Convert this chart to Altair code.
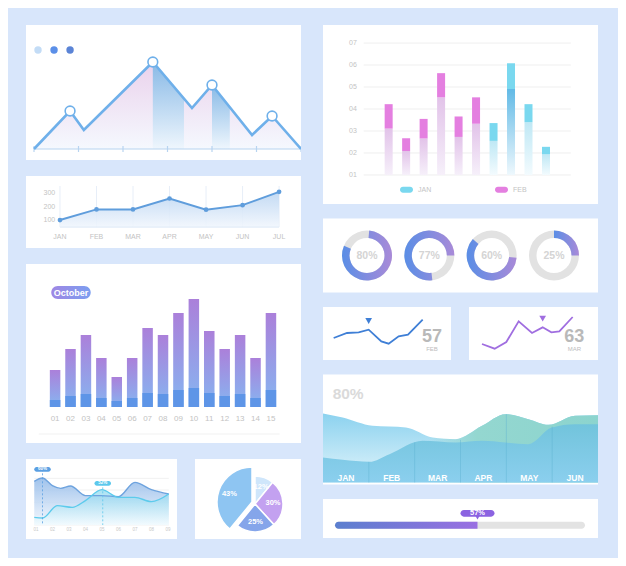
import altair as alt
import pandas as pd

FONT = "Liberation Sans"
PAGE_BG = "#d8e6fb"
LABEL_GREY = "#c3c3c3"

# ======================= DATA =======================
# top-left mountain chart
mountain_x = [0, 0.81, 1.12, 2.67, 3.55, 4.0, 4.9, 5.35, 6.0]
mountain_y = [0, 38, 19, 87, 41, 64, 14, 33, 0]
mountain_marker_x = [0.81, 2.67, 4.0, 5.35]
mountain_marker_y = [38, 87, 64, 33]
mountain_band_id = ["b1", "b1", "b2", "b2"]
mountain_band_x = [2.67, 3.37, 4.0, 4.4]
mountain_band_y = [87, 51, 64, 41]
mountain_ticks = [0, 1, 2, 3, 4, 5, 6]
dot_names = ["d1", "d2", "d3"]
dot_x = [0.09, 0.45, 0.81]
dot_y = [99, 99, 99]

# line chart JAN-JUL
line_months = ["JAN", "FEB", "MAR", "APR", "MAY", "JUN", "JUL"]
line_values = [100, 180, 180, 262, 178, 212, 312]
line_ticks = [100, 200, 300]

# October bars
oct_days = ["01", "02", "03", "04", "05", "06", "07", "08", "09", "10",
            "11", "12", "13", "14", "15"]
oct_total = [37, 58, 72, 49, 30, 49, 79, 72, 94, 108, 76, 58, 72, 49, 94]
oct_base = [7, 11, 13, 9, 6, 9, 14, 13, 17, 19, 14, 11, 13, 9, 17]

# small wave chart (bottom-left)
wave_ticks = ["01", "02", "03", "04", "05", "06", "07", "08", "09"]
wave_a_x = [0.9, 1.4, 2.0, 2.5, 3.1, 4.0, 5.0, 6.0, 7.0, 8.0, 9.05]
wave_a_v = [138, 148, 125, 117, 124, 95, 95, 92, 135, 113, 100]
wave_b_x = [0.9, 1.4, 2.3, 3.2, 4.0, 5.0, 6.0, 7.0, 8.0, 9.05]
wave_b_v = [30, 28, 65, 60, 80, 113, 90, 90, 77, 100]
wave_grid = [7, 40, 75, 112, 147]
wave_tag_series = ["a", "b"]
wave_tag_x = [1.4, 5.05]
wave_tag_v = [174, 132]
wave_tag_text = ["60%", "52%"]

# pie
pie_labels = ["12%", "30%", "25%", "43%"]
pie_values = [12, 30, 25, 43]

# stacked bars (top-right)
stack_month = ["FEB", "FEB", "FEB", "FEB", "FEB", "FEB", "JAN", "JAN", "JAN", "JAN"]
stack_low = [3.11, 2.09, 2.66, 4.53, 2.73, 3.33, 2.55, 4.91, 3.40, 1.94]
stack_high = [4.22, 2.67, 3.55, 5.63, 3.66, 4.53, 3.36, 6.08, 4.22, 2.28]
stack_ticks = ["01", "02", "03", "04", "05", "06", "07"]

# donuts
donut_pct = [80, 77, 60, 25]
donut_start = [5, 173, 95, 0]

# sparklines
spark_feb_x = [3.5, 7.5, 11, 14, 17.8, 20, 23, 25.8, 30.2]
spark_feb_v = [40, 55, 57, 65, 30, 23, 45, 50, 95]
spark_mar_x = [4, 7.8, 11.3, 15, 19, 22.2, 24.8, 27.2, 31.2]
spark_mar_v = [22, 8, 28, 90, 55, 72, 57, 60, 103]

# big wave area (right)
wave_months = ["JAN", "FEB", "MAR", "APR", "MAY", "JUN"]
back_x = [0, 0.43, 1.08, 1.81, 2.39, 2.89, 3.47, 3.98, 4.48, 4.92, 5.5, 6.0]
back_v = [207, 195, 170, 165, 135, 130, 170, 205, 190, 173, 200, 202]
front_x = [0, 0.43, 1.01, 1.45, 2.17, 2.89, 3.47, 3.98, 4.48, 4.99, 5.5, 6.0]
front_v = [75, 68, 62, 85, 125, 120, 125, 120, 115, 165, 175, 175]
sep_x = [1, 2, 3, 4, 5]
sep_top = [62, 120, 128, 205, 168]
big_pct = ["80%"]

# progress
progress_value = [57]
progress_max = [100]


# ======================= HELPERS =======================
def sc(lo, hi):
    return alt.Scale(domain=[lo, hi], nice=False, zero=False)


def vgrad(c0, c1):
    return alt.Gradient(gradient="linear", x1=0, x2=0, y1=0, y2=1,
                        stops=[alt.GradientStop(color=c0, offset=0),
                               alt.GradientStop(color=c1, offset=1)])


def hgrad(*cols, offsets=None):
    n = len(cols)
    offs = offsets if offsets else [i / (n - 1) for i in range(n)]
    return alt.Gradient(gradient="linear", x1=0, x2=1, y1=0, y2=0,
                        stops=[alt.GradientStop(color=c, offset=o) for c, o in zip(cols, offs)])


def ex(f, s):
    return alt.X(f, scale=s, axis=None)


def ey(f, s):
    return alt.Y(f, scale=s, axis=None)


def C(df, **consts):
    """Chart with constant helper fields (annotation anchors) added by calculate."""
    ch = alt.Chart(df)
    if consts:
        ch = ch.transform_calculate(**{k: repr(float(v)) for k, v in consts.items()})
    return ch


def indep(ch):
    return ch.resolve_scale(color="independent", opacity="independent", theta="independent")


# ======================= PANEL A: mountain =======================
XA, YA = sc(-0.18, 6.0), sc(-11, 124)
dfA = pd.DataFrame({"x": mountain_x, "y": mountain_y})
dfAm = pd.DataFrame({"x": mountain_marker_x, "y": mountain_marker_y})
dfAb = pd.DataFrame({"band": mountain_band_id, "x": mountain_band_x, "y": mountain_band_y})
dfAt = pd.DataFrame({"t": mountain_ticks})
dfAd = pd.DataFrame({"k": dot_names, "x": dot_x, "y": dot_y})
LINE_A = "#6fb0ea"

pA = alt.layer(
    C(dfA, z=0).mark_area(fill=vgrad("#e8cdea", "#f4f8fe"), opacity=0.9, clip=True)
    .encode(x=ex("x:Q", XA), y=ey("y:Q", YA), y2="z:Q"),
    C(dfAb, z=0).mark_area(fill=vgrad("#7db6e5", "#eef6fd"), opacity=0.9, clip=True)
    .encode(x=ex("x:Q", XA), y=ey("y:Q", YA), y2="z:Q", detail="band:N"),
    alt.Chart(dfAt).transform_aggregate(t0="min(t)", t1="max(t)").transform_calculate(z="0")
    .mark_rule(color="#b8d4f0", strokeWidth=1.2, clip=True)
    .encode(x=ex("t0:Q", XA), x2="t1:Q", y=ey("z:Q", YA)),
    C(dfAt, lo=-3, hi=3).mark_rule(color="#b8d4f0", strokeWidth=1.2, clip=True)
    .encode(x=ex("t:Q", XA), y=ey("lo:Q", YA), y2="hi:Q"),
    alt.Chart(dfA).mark_line(color=LINE_A, strokeWidth=2.6, clip=True)
    .encode(x=ex("x:Q", XA), y=ey("y:Q", YA)),
    alt.Chart(dfAm).mark_circle(size=95, fill="white", stroke=LINE_A, strokeWidth=1.6, opacity=1)
    .encode(x=ex("x:Q", XA), y=ey("y:Q", YA)),
    alt.Chart(dfAd).mark_circle(size=55, opacity=1)
    .encode(x=ex("x:Q", XA), y=ey("y:Q", YA),
            color=alt.Color("k:N", scale=alt.Scale(domain=dot_names, range=["#c3dcf6", "#5b8fe8", "#5b84d6"]),
                            legend=None)),
).properties(width=275, height=135)

# ======================= PANEL B: line JAN-JUL =======================
XB, YB = sc(-0.93, 6.6), sc(-110, 431)
dfB = pd.DataFrame({"i": list(range(len(line_months))), "m": line_months, "v": line_values})
LINE_B = "#5f9ddc"
pB = alt.layer(
    C(dfB, lo=47, hi=356).mark_rule(color="#e7eef8", strokeWidth=1)
    .encode(x=ex("i:Q", XB), y=ey("lo:Q", YB), y2="hi:Q"),
    C(dfB, lo=47).mark_area(fill=vgrad("#bcd6f2", "#f1f6fd"), opacity=0.9)
    .encode(x=ex("i:Q", XB), y=ey("v:Q", YB), y2="lo:Q"),
    alt.Chart(dfB).transform_aggregate(i0="min(i)", i1="max(i)").transform_calculate(lo="47")
    .mark_rule(color="#dce8f6", strokeWidth=1)
    .encode(x=ex("i0:Q", XB), x2="i1:Q", y=ey("lo:Q", YB)),
    alt.Chart(dfB).mark_line(color=LINE_B, strokeWidth=2)
    .encode(x=ex("i:Q", XB), y=ey("v:Q", YB)),
    alt.Chart(dfB).mark_circle(color=LINE_B, size=22, opacity=1)
    .encode(x=ex("i:Q", XB), y=ey("v:Q", YB)),
    C(pd.DataFrame({"t": line_ticks}), px=-0.13).mark_text(align="right", baseline="middle", fontSize=7,
                                                          color=LABEL_GREY)
    .encode(x=ex("px:Q", XB), y=ey("t:Q", YB), text="t:Q"),
    C(dfB, py=-28).mark_text(baseline="middle", fontSize=7, color=LABEL_GREY)
    .encode(x=ex("i:Q", XB), y=ey("py:Q", YB), text="m:N"),
).properties(width=275, height=72)

# ======================= PANEL C: October bars =======================
XC, YC = sc(-0.5625, 16.625), sc(-36, 143)
dfC = pd.DataFrame({"i": list(range(1, len(oct_days) + 1)), "d": oct_days, "tot": oct_total, "base": oct_base})
dfOct = pd.DataFrame({"label": ["October"]})
pC = alt.layer(
    C(dfC, z=0).mark_bar(size=10.5, fill=vgrad("#ab80da", "#86b6f1"))
    .encode(x=ex("i:Q", XC), y=ey("tot:Q", YC), y2="z:Q"),
    C(dfC, z=0).mark_bar(size=10.5, color="#5e95e7")
    .encode(x=ex("i:Q", XC), y=ey("base:Q", YC), y2="z:Q"),
    C(dfC, py=-12).mark_text(baseline="middle", fontSize=8, color=LABEL_GREY)
    .encode(x=ex("i:Q", XC), y=ey("py:Q", YC), text="d:N"),
    C(dfOct, x0=-0.06, x1=15.56, py=-27).mark_rule(color="#f1f1f1", strokeWidth=1)
    .encode(x=ex("x0:Q", XC), x2="x1:Q", y=ey("py:Q", YC)),
    C(dfOct, x0=0.75, x1=3.31, y0=108, y1=121)
    .mark_rect(cornerRadius=6.5, fill=hgrad("#a087e4", "#7b9ef0"))
    .encode(x=ex("x0:Q", XC), x2="x1:Q", y=ey("y0:Q", YC), y2="y1:Q"),
    C(dfOct, px=2.03, py=114.5)
    .mark_text(color="white", fontWeight="bold", fontSize=9, baseline="middle")
    .encode(x=ex("px:Q", XC), y=ey("py:Q", YC), text="label:N"),
).properties(width=275, height=179)

# ======================= PANEL D: small waves =======================
XD, YD = sc(0.4, 9.55), sc(-35, 205)
dfDa = pd.DataFrame({"x": wave_a_x, "v": wave_a_v})
dfDb = pd.DataFrame({"x": wave_b_x, "v": wave_b_v})
dfDt = pd.DataFrame({"s": wave_tag_series, "x": wave_tag_x, "v": wave_tag_v, "lab": wave_tag_text})
dfDl = pd.DataFrame({"i": list(range(1, len(wave_ticks) + 1)), "lab": wave_ticks})
TAGS = alt.Scale(domain=wave_tag_series, range=["#5a9fe2", "#5cc8ec"])
pD = alt.layer(
    C(pd.DataFrame({"g": wave_grid}), x0=0.9, x1=9.05).mark_rule(color="#ebebeb", strokeWidth=0.7)
    .encode(x=ex("x0:Q", XD), x2="x1:Q", y=ey("g:Q", YD)),
    C(dfDa, z=7).mark_area(interpolate="monotone", fill=vgrad("#8fb8e8", "#f4f8fe"), opacity=0.85)
    .encode(x=ex("x:Q", XD), y=ey("v:Q", YD), y2="z:Q"),
    C(dfDb, z=7).mark_area(interpolate="monotone", fill=vgrad("#86d6ee", "#f1fbfe"), opacity=0.7)
    .encode(x=ex("x:Q", XD), y=ey("v:Q", YD), y2="z:Q"),
    alt.Chart(dfDa).mark_line(interpolate="monotone", color="#6ea3de", strokeWidth=1.4)
    .encode(x=ex("x:Q", XD), y=ey("v:Q", YD)),
    alt.Chart(dfDb).mark_line(interpolate="monotone", color="#5ccbec", strokeWidth=1.4)
    .encode(x=ex("x:Q", XD), y=ey("v:Q", YD)),
    C(dfDt, z=7).mark_rule(strokeDash=[2, 2], strokeWidth=0.8)
    .encode(x=ex("x:Q", XD), y=ey("v:Q", YD), y2="z:Q",
            color=alt.Color("s:N", scale=TAGS, legend=None)),
    alt.Chart(dfDt).transform_calculate(x0="datum.x-0.5", x1="datum.x+0.5", y0="datum.v-7", y1="datum.v+7")
    .mark_rect(cornerRadius=2.5)
    .encode(x=ex("x0:Q", XD), x2="x1:Q", y=ey("y0:Q", YD), y2="y1:Q",
            color=alt.Color("s:N", scale=TAGS, legend=None)),
    alt.Chart(dfDt).mark_text(color="white", fontWeight="bold", fontSize=4.5, baseline="middle")
    .encode(x=ex("x:Q", XD), y=ey("v:Q", YD), text="lab:N"),
    C(dfDl, py=-8).mark_text(color="#c9c9c9", fontSize=4.5, baseline="middle")
    .encode(x=ex("i:Q", XD), y=ey("py:Q", YD), text="lab:N"),
).properties(width=151, height=80)

# ======================= PANEL E: pie =======================
dfE = pd.DataFrame({"idx": list(range(len(pie_labels))), "lab": pie_labels, "val": pie_values})
pie_base = alt.Chart(dfE).transform_joinaggregate(maxv="max(val)").transform_calculate(
    big="datum.val == datum.maxv ? 1 : 0", small="datum.val == datum.maxv ? 0 : 1")
th = alt.Theta("val:Q", stack=True)
od = alt.Order("idx:Q")
pcol = alt.Color("lab:N", scale=alt.Scale(domain=pie_labels,
                                          range=["#cfe6fb", "#c3a1f0", "#85a5ea", "#8ec5f2"]), legend=None)
OPS = alt.Scale(domain=[0, 1], range=[0, 1])
pE = alt.layer(
    pie_base.mark_arc(outerRadius=28, stroke="white", strokeWidth=1.5)
    .encode(theta=th, order=od, color=pcol, opacity=alt.Opacity("small:Q", scale=OPS, legend=None),
            x=alt.value(60), y=alt.value(45)),
    pie_base.mark_arc(outerRadius=35, stroke="white", strokeWidth=1.5)
    .encode(theta=th, order=od, color=pcol, opacity=alt.Opacity("big:Q", scale=OPS, legend=None),
            x=alt.value(57), y=alt.value(43)),
    pie_base.mark_text(radius=18, color="white", fontWeight="bold", fontSize=7.5, baseline="middle")
    .encode(theta=th, order=od, text="lab:N", opacity=alt.Opacity("small:Q", scale=OPS, legend=None),
            x=alt.value(60), y=alt.value(45)),
    pie_base.mark_text(radius=24, color="white", fontWeight="bold", fontSize=7.5, baseline="middle")
    .encode(theta=th, order=od, text="lab:N", opacity=alt.Opacity("big:Q", scale=OPS, legend=None),
            x=alt.value(57), y=alt.value(43)),
).properties(width=106, height=80)

# ======================= R1: stacked bars =======================
XR1, YR1 = sc(-2.47, 12.69), sc(-0.32, 7.82)
dfR1 = pd.DataFrame({"i": list(range(1, len(stack_month) + 1)), "m": stack_month,
                     "low": stack_low, "high": stack_high})
dfR1t = pd.DataFrame({"t": list(range(1, len(stack_ticks) + 1)), "lab": stack_ticks})
r1_base = alt.Chart(dfR1).transform_joinaggregate(maxh="max(high)").transform_calculate(one="1")
r1 = alt.layer(
    C(dfR1t, x0=-0.43, x1=11.42).mark_rule(color="#efefef", strokeWidth=1)
    .encode(x=ex("x0:Q", XR1), x2="x1:Q", y=ey("t:Q", YR1)),
    C(dfR1t, px=-1.04).mark_text(color="#c4c4c4", fontSize=7, baseline="middle")
    .encode(x=ex("px:Q", XR1), y=ey("t:Q", YR1), text="lab:N"),
    r1_base.transform_filter("datum.m == 'FEB'")
    .mark_bar(size=8, fill=vgrad("#e2c3e9", "#f6f0fa"))
    .encode(x=ex("i:Q", XR1), y=ey("low:Q", YR1), y2="one:Q"),
    r1_base.transform_filter("datum.m == 'JAN' && datum.high < datum.maxh")
    .mark_bar(size=8, fill=vgrad("#bfe8f5", "#f3fbfe"))
    .encode(x=ex("i:Q", XR1), y=ey("low:Q", YR1), y2="one:Q"),
    r1_base.transform_filter("datum.m == 'JAN' && datum.high == datum.maxh")
    .mark_bar(size=8, fill=vgrad("#62bae6", "#eef8fd"))
    .encode(x=ex("i:Q", XR1), y=ey("low:Q", YR1), y2="one:Q"),
    r1_base.mark_bar(size=8)
    .encode(x=ex("i:Q", XR1), y=ey("low:Q", YR1), y2="high:Q",
            color=alt.Color("m:N", scale=alt.Scale(domain=["JAN", "FEB"], range=["#7ad8ef", "#e47fe0"]),
                            legend=alt.Legend(orient="none", legendX=77, legendY=158, direction="horizontal",
                                              title=None,
                                              symbolType="M-0.55,-0.45H0.55A0.45,0.45 0 0 1 0.55,0.45H-0.55A0.45,0.45 0 0 1 -0.55,-0.45Z",
                                              symbolSize=169, symbolStrokeWidth=0, symbolOpacity=1,
                                              labelFontSize=7, labelColor="#c4c4c4", labelFont=FONT,
                                              columnPadding=62, labelOffset=5))),
).properties(width=275, height=179)

# ======================= R2: donuts =======================
XR2, YR2 = sc(0.294, 4.706), sc(-1, 1)
THS = alt.Scale(domain=[0, 360], range=[0, 6.283185307179586])
dfR2 = pd.DataFrame({"i": list(range(1, len(donut_pct) + 1)), "pct": donut_pct, "s": donut_start})
r2_base = alt.Chart(dfR2).transform_calculate(e="datum.s + datum.pct * 3.6", lab="datum.pct + '%'",
                                              t0="0", t1="360", yc="0")
r2 = alt.layer(
    r2_base.mark_arc(innerRadius=17.5, outerRadius=25, color="#e2e2e2")
    .encode(x=ex("i:Q", XR2), y=ey("yc:Q", YR2), theta=alt.Theta("t0:Q", scale=THS, stack=None),
            theta2="t1:Q"),
    r2_base.mark_arc(innerRadius=17.5, outerRadius=25, fill=hgrad("#5a8ee6", "#a98ad8"))
    .encode(x=ex("i:Q", XR2), y=ey("yc:Q", YR2), theta=alt.Theta("s:Q", scale=THS, stack=None),
            theta2="e:Q"),
    r2_base.mark_text(fontSize=10.5, color="#d4d4d4", fontWeight="bold", baseline="middle")
    .encode(x=ex("i:Q", XR2), y=ey("yc:Q", YR2), text="lab:N"),
).properties(width=275, height=74)


# ======================= R3 / R4: sparklines =======================
def spark(xs_, vs_, mark_idx, number, month, color, xdom, num_x, width):
    XS, YS = sc(*xdom), sc(-26, 133)
    df = pd.DataFrame({"idx": list(range(len(xs_))), "x": xs_, "v": vs_})
    lab = pd.DataFrame({"num": [number], "mon": [month]})
    return alt.layer(
        alt.Chart(df).mark_line(color=color, strokeWidth=1.8)
        .encode(x=ex("x:Q", XS), y=ey("v:Q", YS)),
        alt.Chart(df).transform_filter(f"datum.idx == {mark_idx}").transform_calculate(vm="datum.v + 26")
        .mark_point(shape="triangle-down", filled=True, size=45, color=color, opacity=1)
        .encode(x=ex("x:Q", XS), y=ey("vm:Q", YS)),
        C(lab, px=num_x, py=28).mark_text(fontSize=18, fontWeight="bold", color="#b9b9b9",
                                          baseline="alphabetic")
        .encode(x=ex("px:Q", XS), y=ey("py:Q", YS), text="num:N"),
        C(lab, px=num_x, py=15).mark_text(fontSize=6, color="#bdbdbd", baseline="top")
        .encode(x=ex("px:Q", XS), y=ey("py:Q", YS), text="mon:N"),
    ).properties(width=width, height=53)


r3 = spark(spark_feb_x, spark_feb_v, 3, "57", "FEB", "#3f7fd6", (0.3, 38.7), 33.0, 128)
r4 = spark(spark_mar_x, spark_mar_v, 5, "63", "MAR", "#a06ee0", (0.1, 38.8), 31.7, 129)

# ======================= R5: big waves =======================
XR5, YR5 = sc(0, 6), sc(-6, 324)
dfBack = pd.DataFrame({"x": back_x, "v": back_v})
dfFront = pd.DataFrame({"x": front_x, "v": front_v})
dfSep = pd.DataFrame({"x": sep_x, "top": sep_top})
dfMon = pd.DataFrame({"i": list(range(len(wave_months))), "m": wave_months})
r5 = alt.layer(
    C(dfBack, z=0).mark_area(interpolate="monotone", fill=vgrad("#8cd2ef", "#e2f5fb"), clip=True)
    .encode(x=ex("x:Q", XR5), y=ey("v:Q", YR5), y2="z:Q"),
    C(dfBack, z=0).mark_area(interpolate="monotone", clip=True,
                             fill=hgrad("rgba(148,215,208,0)", "rgba(148,215,208,0)", "rgba(148,215,208,1)",
                                        "rgba(140,212,206,1)", offsets=[0, 0.38, 0.56, 1]))
    .encode(x=ex("x:Q", XR5), y=ey("v:Q", YR5), y2="z:Q"),
    C(dfFront, z=0).mark_area(interpolate="monotone", fill=vgrad("#72c4dc", "#8bcfee"), clip=True)
    .encode(x=ex("x:Q", XR5), y=ey("v:Q", YR5), y2="z:Q"),
    C(dfSep, z=0).mark_rule(color="#5aaed0", strokeWidth=0.8, opacity=0.5)
    .encode(x=ex("x:Q", XR5), y=ey("z:Q", YR5), y2="top:Q"),
    C(dfMon, py=14).transform_calculate(c="datum.i + 0.5")
    .mark_text(color="white", fontWeight="bold", fontSize=8.5, baseline="middle")
    .encode(x=ex("c:Q", XR5), y=ey("py:Q", YR5), text="m:N"),
    C(pd.DataFrame({"lab": big_pct}), px=0.21, py=265)
    .mark_text(color="#dadada", fontWeight="bold", fontSize=15.5, align="left", baseline="middle")
    .encode(x=ex("px:Q", XR5), y=ey("py:Q", YR5), text="lab:N"),
).properties(width=275, height=110)

# ======================= R6: progress =======================
XR6, YR6 = sc(-4.8, 105.2), sc(0, 39)
dfP = pd.DataFrame({"v": progress_value, "max": progress_max})
p_base = alt.Chart(dfP).transform_calculate(lab="datum.v + '%'", p0="datum.v - 6.8", p1="datum.v + 6.8",
                                            z="0", yb="10.5", yt="20.5", y0="22", y1="31", ym="26.5")
r6 = alt.layer(
    p_base.mark_bar(size=7, cornerRadius=3.5, color="#e3e3e3", orient="horizontal")
    .encode(x=ex("z:Q", XR6), x2="max:Q", y=ey("yb:Q", YR6)),
    p_base.mark_bar(size=7, cornerRadiusTopLeft=3.5, cornerRadiusBottomLeft=3.5, orient="horizontal",
                    fill=hgrad("#5b7fcf", "#9a6fe2"))
    .encode(x=ex("z:Q", XR6), x2="v:Q", y=ey("yb:Q", YR6)),
    p_base.mark_point(shape="triangle-down", filled=True, size=16, color="#8b63e1", opacity=1)
    .encode(x=ex("v:Q", XR6), y=ey("yt:Q", YR6)),
    p_base.mark_rect(cornerRadius=4, color="#8b63e1")
    .encode(x=ex("p0:Q", XR6), x2="p1:Q", y=ey("y0:Q", YR6), y2="y1:Q"),
    p_base.mark_text(color="white", fontWeight="bold", fontSize=7.5, baseline="middle")
    .encode(x=ex("v:Q", XR6), y=ey("ym:Q", YR6), text="lab:N"),
).properties(width=275, height=39)

# ======================= LAYOUT =======================
left = indep(alt.vconcat(pA, pB, pC, indep(alt.hconcat(pD, pE, spacing=18)), spacing=16))
right = indep(alt.vconcat(r1, r2, indep(alt.hconcat(r3, r4, spacing=18)), r5, r6, spacing=14.5))
chart = (
    indep(alt.hconcat(left, right, spacing=22))
    .properties(padding={"left": 18, "top": 17, "right": 20, "bottom": 19}, background=PAGE_BG)
    .configure_view(fill="white", stroke=None)
    .configure_text(font=FONT)
)

chart.save("out.html", embed_options={"renderer": "svg", "actions": False})
